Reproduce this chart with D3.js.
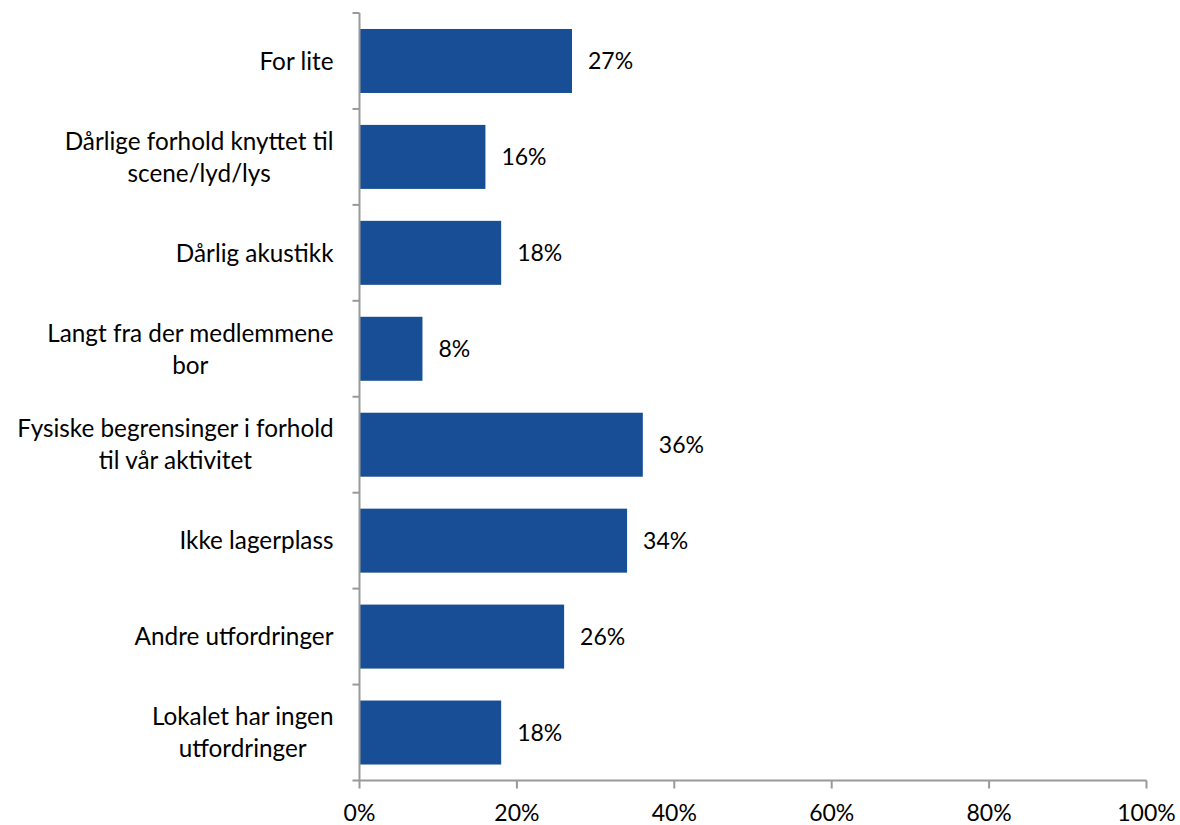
<!DOCTYPE html>
<html><head><meta charset="utf-8">
<script src="https://cdn.jsdelivr.net/npm/d3@7"></script>
<style>body{margin:0;background:#fff}svg{display:block}text{font-family:Lato,"Open Sans",sans-serif;fill:#000}</style>
</head><body><svg id="c" width="1180" height="825"></svg>
<script>
const categories = [
  ["For lite"],
  ["Dårlige forhold knyttet til","scene/lyd/lys"],
  ["Dårlig akustikk"],
  ["Langt fra der medlemmene","bor"],
  ["Fysiske begrensinger i forhold","til vår aktivitet"],
  ["Ikke lagerplass"],
  ["Andre utfordringer"],
  ["Lokalet har ingen","utfordringer"]
];
const values = [0.27, 0.16, 0.18, 0.08, 0.36, 0.34, 0.26, 0.18];
const xTicks = [0, 0.2, 0.4, 0.6, 0.8, 1.0];

(function(){
const svg = d3.select("#c");
const L = 359.5, R = 1146.5, T = 13, B = 780.5;
const fsCat = 24.3, fsNum = 23;
const ids = categories.map((c,i)=>i);
const x = d3.scaleLinear().domain([0,1]).range([L,R]);
const y = d3.scaleBand().domain(ids).range([T,B]).paddingInner(0.333).paddingOuter(0.1665);
const yTicks = d3.scaleBand().domain(ids).range([T,B]);

svg.append("g").selectAll("rect").data(values).join("rect")
  .attr("x", x(0)).attr("y",(d,i)=>y(i)).attr("width",d=>x(d)-x(0)).attr("height",y.bandwidth())
  .attr("fill","#174E96");

const ax = svg.append("g").attr("stroke","#999").attr("stroke-width",2).attr("fill","none");
ax.append("line").attr("x1",L).attr("x2",L).attr("y1",T).attr("y2",B);
ax.append("line").attr("x1",L-7).attr("x2",R).attr("y1",B).attr("y2",B);
ids.forEach(i=>{ ax.append("line").attr("x1",L-7).attr("x2",L).attr("y1",yTicks(i)).attr("y2",yTicks(i)); });
xTicks.forEach(t=>{ ax.append("line").attr("x1",x(t)).attr("x2",x(t)).attr("y1",B).attr("y2",B+8); });

svg.append("g").selectAll("text").data(xTicks).join("text")
  .attr("x",d=>x(d)).attr("y",821).attr("text-anchor","middle").attr("font-size",fsNum)
  .text(d=>d3.format(".0%")(d));

const lh = 32;
categories.forEach((lines,i)=>{
  const cy = y(i)+y.bandwidth()/2;
  const t = svg.append("text").attr("text-anchor","middle").attr("font-size",fsCat);
  const spans = lines.map((ln,k)=>t.append("tspan").attr("y",cy+(k-(lines.length-1)/2)*lh).attr("dy","0.36em").text(ln));
  const w = d3.max(spans, s=>s.node().getComputedTextLength());
  spans.forEach(s=>s.attr("x", L-26-w/2));
});

svg.append("g").selectAll("text").data(values).join("text")
  .attr("x",d=>x(d)+16).attr("y",(d,i)=>y(i)+y.bandwidth()/2).attr("dy","0.36em")
  .attr("font-size",fsNum).text(d=>d3.format(".0%")(d));
})();
</script></body></html>
